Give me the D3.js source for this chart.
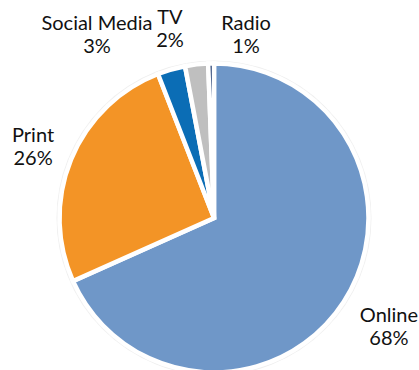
<!DOCTYPE html>
<html>
<head>
<meta charset="utf-8">
<script src="https://cdn.jsdelivr.net/npm/d3@7"></script>
<style>
  body { margin: 0; background: #fff; }
  text { font-family: Lato, "Open Sans", sans-serif; }
</style>
</head>
<body>
<div id="chart"></div>
<script>
const categories = ["Online", "Print", "Social Media", "TV", "Radio"];
const shares = [68.3, 25.8, 2.9, 2.4, 0.6];
const percentLabels = ["68%", "26%", "3%", "2%", "1%"];

const width = 419;
const height = 370;
const cx = 214, cy = 218;
const radius = 154.5;

const colors = d3.scaleOrdinal()
    .domain(categories)
    .range(["#6f97c8", "#f39426", "#0b6db5", "#bfbfbf", "#1f3a6e"]);

// nudges so the labels land where the original put them
const labelNudge = {
    "Online": [15.5, 0.4],
    "Print": [-5.2, -4.1],
    "Social Media": [-64.6, -5.4],
    "TV": [-22.6, -5.2],
    "Radio": [35.6, 2]
};

const data = categories.map((c, i) => ({ name: c, value: shares[i], label: percentLabels[i] }));

const svg = d3.select("#chart")
    .append("svg")
    .attr("width", width)
    .attr("height", height);

const g = svg.append("g")
    .attr("transform", "translate(" + cx + "," + cy + ")");

// faint halo around the pie
g.append("circle")
    .attr("r", radius + 1.5)
    .attr("fill", "none")
    .attr("stroke", "#efefef")
    .attr("stroke-width", 3);

const pie = d3.pie()
    .sort(null)
    .value(d => d.value);

const arc = d3.arc()
    .innerRadius(0)
    .outerRadius(radius);

const labelArc = d3.arc()
    .innerRadius(190)
    .outerRadius(190);

const arcs = pie(data);

g.selectAll("path")
    .data(arcs)
    .enter()
    .append("path")
    .attr("d", arc)
    .attr("fill", d => colors(d.data.name))
    .attr("stroke", "#fff")
    .attr("stroke-width", 4.5)
    .attr("stroke-linejoin", "miter");

const labels = g.selectAll(".label")
    .data(arcs)
    .enter()
    .append("text")
    .attr("class", "label")
    .attr("text-anchor", "middle")
    .attr("font-size", 20)
    .attr("fill", "#111")
    .attr("transform", d => {
        const c = labelArc.centroid(d);
        const n = labelNudge[d.data.name];
        return "translate(" + (c[0] + n[0]) + "," + (c[1] + n[1]) + ")";
    });

labels.append("tspan")
    .attr("x", 0)
    .attr("y", 0)
    .text(d => d.data.name);

labels.append("tspan")
    .attr("x", 0)
    .attr("y", 23)
    .text(d => d.data.label);
</script>
</body>
</html>
